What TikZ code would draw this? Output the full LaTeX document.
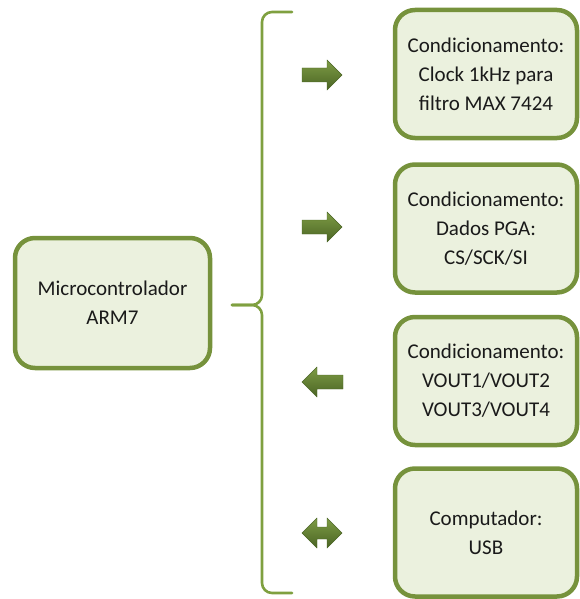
\documentclass[tikz,border=0pt]{standalone}
\usepackage{fontspec}
\setmainfont{Carlito}
\begin{document}
\begin{tikzpicture}[x=1pt,y=-1pt,
  box/.style={draw=boxline, line width=4.5pt, fill=boxfill, rounded corners=20pt,
    minimum width=#1, align=center, text=txt, inner sep=0pt,
    font=\fontsize{21}{29}\selectfont},
  rbox/.style={box=182pt, minimum height=128pt},
  lbox/.style={box=195pt, minimum height=130pt},
  arrowfill/.style={top color=arrtop, bottom color=arrbot, draw=arrbot, line width=0.4pt},
  brace/.style={draw=braceline, line width=2.6pt, line cap=round}]
\definecolor{boxline}{HTML}{76923C}
\definecolor{boxfill}{HTML}{EBF1DE}
\definecolor{txt}{HTML}{1A1A1A}
\definecolor{arrtop}{HTML}{7E9C45}
\definecolor{arrbot}{HTML}{4A6424}
\definecolor{braceline}{HTML}{7FA040}
\useasboundingbox (0,0) rectangle (579,599);

\node[lbox] (mcu) at (112.5,303) {Microcontrolador\\ARM7};
\node[rbox] (c1) at (486,74) {Condicionamento:\\Clock 1kHz para\\filtro MAX 7424};
\node[rbox] (c2) at (486,228.5) {Condicionamento:\\Dados PGA:\\CS/SCK/SI};
\node[rbox] (c3) at (486,381) {Condicionamento:\\VOUT1/VOUT2\\VOUT3/VOUT4};
\node[rbox] (c4) at (486,532.5) {Computador:\\USB};

% brace
\coordinate (btop) at (292,12);
\coordinate (bbot) at (292,593);
\coordinate (btip) at (232,305);
\draw[brace] (btop) -- (272,12) to[out=180,in=90] (262,22) -- (262,295)
  to[out=-90,in=0] (252,305) -- (btip);
\draw[brace] (btip) -- (252,305) to[out=0,in=90] (262,315) -- (262,583)
  to[out=-90,in=180] (272,593) -- (bbot);

% arrows
\path[arrowfill] (302,68) -- (327,68) -- (327,60) -- (342,75) -- (327,90) -- (327,82) -- (302,82) -- cycle;
\path[arrowfill] (302,220) -- (327,220) -- (327,212) -- (342,227) -- (327,242) -- (327,234) -- (302,234) -- cycle;
\path[arrowfill] (343,375) -- (317,375) -- (317,367) -- (302,382) -- (317,397) -- (317,389) -- (343,389) -- cycle;
\path[arrowfill] (302,533) -- (317,518) -- (317,527) -- (327,527) -- (327,518) -- (342,533)
  -- (327,548) -- (327,539) -- (317,539) -- (317,548) -- cycle;
\end{tikzpicture}
\end{document}
